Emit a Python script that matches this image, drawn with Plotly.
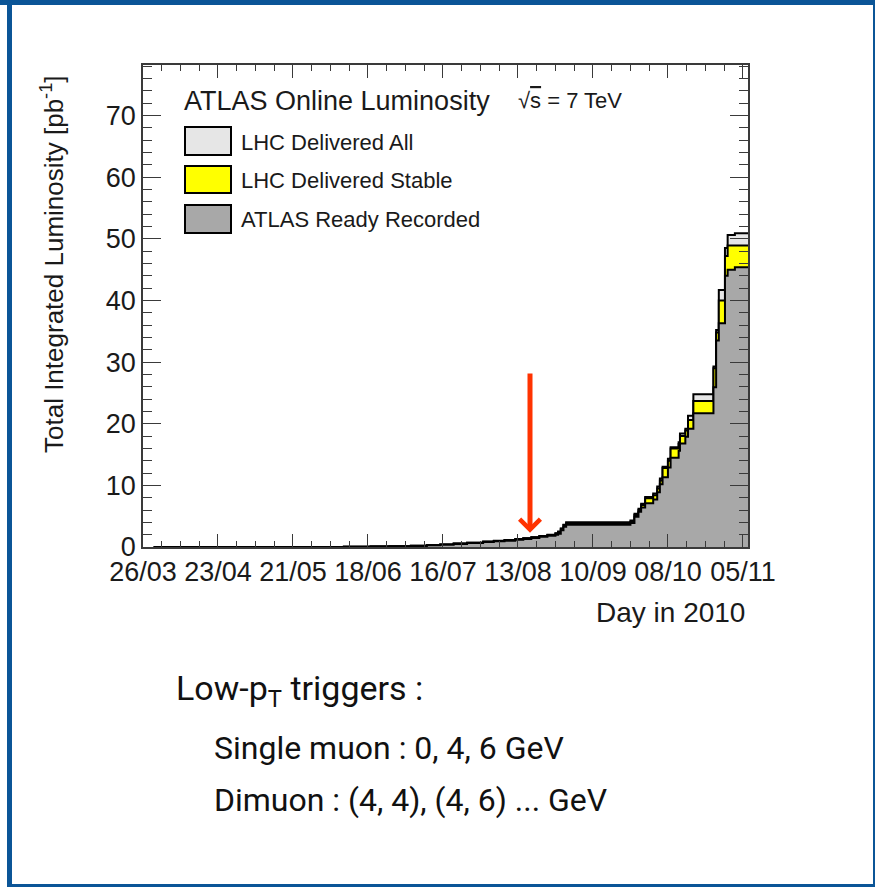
import pandas as pd
import plotly.graph_objects as go

# Cumulative integrated luminosity [pb^-1], step values per day offset from 26/03/2010
day_offset = [4, 60, 75, 85, 92, 100, 106, 111, 116, 121, 127, 131, 135, 139, 142,
              145, 148, 151, 154, 155, 156, 157, 158, 182, 183.5, 185, 186, 187.5,
              190.5, 192, 193, 194, 196, 197, 200, 200.5, 202.5, 203.5, 205.5, 213,
              214, 215, 217.3, 218.3, 221, 226]
delivered_all = [0.0, 0.02, 0.05, 0.08, 0.12, 0.2, 0.3, 0.4, 0.55, 0.7, 0.88, 1.0,
                 1.12, 1.28, 1.42, 1.6, 1.8, 2.0, 2.25, 2.5, 3.0, 3.6, 4.0, 4.3, 5.4,
                 6.2, 7.0, 8.1, 8.7, 9.8, 11.1, 13.0, 14.3, 16.2, 17.0, 18.4, 19.2,
                 21.3, 24.8, 29.3, 35.2, 41.7, 48.5, 50.6, 50.9, 50.9]
delivered_stable = [0.0, 0.02, 0.05, 0.08, 0.12, 0.2, 0.3, 0.4, 0.55, 0.7, 0.87, 0.99,
                    1.1, 1.26, 1.4, 1.57, 1.76, 1.96, 2.2, 2.45, 2.95, 3.55, 3.85, 4.1,
                    5.2, 6.0, 6.8, 7.9, 8.4, 9.5, 10.8, 12.8, 14.0, 16.0, 16.7, 18.0,
                    18.9, 20.6, 23.7, 29.0, 34.8, 40.0, 47.2, 48.9, 48.9, 48.9]
ready_recorded = [0.0, 0.02, 0.04, 0.07, 0.1, 0.18, 0.27, 0.36, 0.5, 0.64, 0.8, 0.92,
                  1.03, 1.18, 1.3, 1.47, 1.65, 1.83, 2.0, 2.15, 2.7, 3.3, 3.6, 3.9,
                  4.9, 5.7, 6.4, 7.1, 7.7, 8.9, 10.2, 11.3, 12.9, 14.5, 15.6, 16.8,
                  17.9, 19.2, 21.7, 25.9, 33.5, 36.3, 44.0, 45.0, 45.4, 45.4]

series_names = ["LHC Delivered All", "LHC Delivered Stable", "ATLAS Ready Recorded"]
series_colors = ["#e6e6e6", "#ffff00", "#a8a8a8"]

start_day = pd.Timestamp("2010-03-26")
x_end_day = 225.9
marked_day = 144.5          # arrow position
marked_from, marked_to = 28.4, 2.3
DAY_MS = 86400000

dates = start_day + pd.to_timedelta(day_offset, unit="D")

W, H = 875, 887
L, R, T, B = 143, 748, 65, 547   # plot area in pixels


def px(x):
    return (x - L) / (R - L)


def py(y):
    return (B - y) / (B - T)


fig = go.Figure()
for name, vals, col in zip(series_names,
                           [delivered_all, delivered_stable, ready_recorded],
                           series_colors):
    fig.add_trace(go.Scatter(
        x=dates, y=vals, name=name, mode="lines", line_shape="hv",
        line=dict(color="black", width=2), fill="tozeroy", fillcolor=col,
        showlegend=False,
    ))

font_main = "Liberation Sans, Arial, sans-serif"
axis_col = "#3a3a3a"
txt_col = "#1a1a1a"

fig.update_xaxes(
    type="date",
    range=[start_day, start_day + pd.Timedelta(days=x_end_day)],
    tick0="2010-03-26", dtick=28 * DAY_MS, tickformat="%d/%m",
    ticks="inside", ticklen=13, tickwidth=1.3, tickcolor=axis_col,
    minor=dict(dtick=7 * DAY_MS, tick0="2010-03-26", ticks="inside",
               ticklen=6, tickwidth=1.2, tickcolor=axis_col),
    showline=True, linecolor=axis_col, linewidth=1.5, mirror="allticks",
    showgrid=False, zeroline=False,
    tickfont=dict(family=font_main, size=27, color=txt_col),
)
fig.update_yaxes(
    range=[0, 78.2], dtick=10, tick0=0,
    ticks="inside", ticklen=18, tickwidth=1.3, tickcolor=axis_col,
    minor=dict(dtick=2, ticks="inside", ticklen=9, tickwidth=1.2,
               tickcolor=axis_col),
    showline=True, linecolor=axis_col, linewidth=1.5, mirror="allticks",
    showgrid=False, zeroline=False,
    tickfont=dict(family=font_main, size=27, color=txt_col),
)

annotations = [
    dict(text="Total Integrated Luminosity [pb<sup>-1</sup>]", textangle=-90,
         x=px(52), y=py(264), xanchor="center", yanchor="middle",
         font=dict(size=26, color=txt_col)),
    dict(text="Day in 2010", x=px(747), y=py(612), xanchor="right",
         yanchor="middle", font=dict(size=28, color=txt_col)),
    dict(text="ATLAS Online Luminosity", x=px(182), y=py(101), xanchor="left",
         yanchor="middle", font=dict(size=27, color=txt_col)),
    dict(text="\u221a<span style='text-decoration:overline'>s</span> = 7 TeV",
         x=px(516), y=py(101), xanchor="left", yanchor="middle",
         font=dict(size=22, color=txt_col)),
]

# Legend boxes and labels
box_rows = [(127, 155), (166, 193), (205, 233)]
shapes = []
for (y0, y1), name, col in zip(box_rows, series_names, series_colors):
    shapes.append(dict(type="rect", xref="paper", yref="paper",
                       x0=px(185), x1=px(231), y0=py(y1), y1=py(y0),
                       fillcolor=col, line=dict(color="black", width=2)))
    annotations.append(dict(text=name, x=px(239), y=py((y0 + y1) / 2 + 1),
                            xanchor="left", yanchor="middle",
                            font=dict(size=22, color=txt_col)))

# Arrow marking a point on the curve
annotations.append(dict(
    x=start_day + pd.Timedelta(days=marked_day), y=marked_to,
    ax=start_day + pd.Timedelta(days=marked_day), ay=marked_from,
    xref="x", yref="y", axref="x", ayref="y", text="",
    showarrow=True, arrowhead=4, arrowsize=0.8, arrowwidth=5,
    arrowcolor="#ff3300",
))

# Trigger notes below the plot
note_font = "Roboto, DejaVu Sans Condensed, sans-serif"
annotations += [
    dict(text="Low-p<sub>T</sub> triggers :", x=px(174), y=py(690),
         xanchor="left", yanchor="middle",
         font=dict(family=note_font, size=34, color="#111111")),
    dict(text="Single muon : 0, 4, 6 GeV", x=px(212), y=py(748),
         xanchor="left", yanchor="middle",
         font=dict(family=note_font, size=32, color="#111111")),
    dict(text="Dimuon : (4, 4), (4, 6) ... GeV", x=px(212), y=py(800),
         xanchor="left", yanchor="middle",
         font=dict(family=note_font, size=32, color="#111111")),
]
for a in annotations:
    a.setdefault("xref", "paper")
    a.setdefault("yref", "paper")
    a.setdefault("showarrow", False)

# Blue page frame
frame_col = "#0b5597"
for x0, y0, x1, y1 in [(0, 0, W, 5), (7, 0, 12, H), (873, 0, W, H), (7, 884, W, H)]:
    shapes.append(dict(type="rect", xref="paper", yref="paper",
                       x0=px(x0), x1=px(x1), y0=py(y1), y1=py(y0),
                       fillcolor=frame_col, line=dict(width=0), layer="above"))

fig.update_layout(
    width=W, height=H,
    margin=dict(l=L, r=W - R, t=T, b=H - B, pad=0),
    paper_bgcolor="white", plot_bgcolor="white",
    font=dict(family=font_main, color=txt_col),
    annotations=annotations, shapes=shapes, showlegend=False,
)

fig.write_html("out.html")
